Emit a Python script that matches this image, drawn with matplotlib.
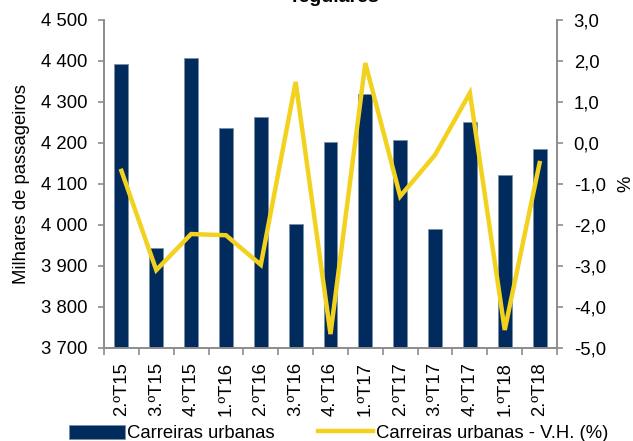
import matplotlib.pyplot as plt
import numpy as np

plt.rcParams['font.family'] = ['Liberation Sans', 'DejaVu Sans']

# trimestres
quarters = ['2.ºT15', '3.ºT15', '4.ºT15', '1.ºT16', '2.ºT16', '3.ºT16', '4.ºT16',
            '1.ºT17', '2.ºT17', '3.ºT17', '4.ºT17', '1.ºT18', '2.ºT18']
# milhares de passageiros
passengers = [4393, 3944, 4407, 4237, 4263, 4002, 4202, 4320, 4207, 3990, 4251, 4122, 4185]
# variacao homologa (%)
yoy = [-0.68, -3.1, -2.22, -2.25, -2.97, 1.49, -4.66, 1.95, -1.3, -0.29, 1.22, -4.56, -0.49]

left_ticks = [3700, 3800, 3900, 4000, 4100, 4200, 4300, 4400, 4500]
right_ticks = [-5, -4, -3, -2, -1, 0, 1, 2, 3]

navy = '#002B5C'
yellow = '#F2D21E'
grey = '#8C8C8C'
fs = 13.3

fig = plt.figure(figsize=(6.33, 4.41), dpi=100)
ax = fig.add_axes([104/633, 1 - 348/441, (557-104)/633, (348-20)/441])
ax2 = ax.twinx()

x = np.arange(len(quarters))
b = ax.bar(x, passengers, width=0.4, color=navy, edgecolor='#7A8FA8', linewidth=0.6,
           label='Carreiras urbanas', zorder=2)
l, = ax2.plot(x, yoy, color=yellow, lw=3.2, label='Carreiras urbanas - V.H. (%)',
              solid_joinstyle='miter', zorder=3)

ax.set_xlim(-0.5, len(quarters) - 0.5)
ax.set_ylim(3700, 4500)
ax2.set_ylim(-5, 3)

ax.set_yticks(left_ticks)
ax.set_yticklabels([f'{v:,}'.replace(',', ' ') for v in left_ticks])
ax2.set_yticks(right_ticks)
ax2.set_yticklabels([f'{v:.1f}'.replace('.', ',') for v in right_ticks])

# separators between categories, labels centred on bars
ax.set_xticks(np.arange(len(quarters) + 1) - 0.5)
ax.set_xticklabels([])
ax.set_xticks(x, minor=True)
ax.set_xticklabels(quarters, minor=True, rotation=90, fontsize=fs)
ax.tick_params(axis='x', which='minor', length=0, pad=10)
ax.tick_params(axis='x', which='major', length=5, color=grey, width=1.2, direction='out')

for a in (ax, ax2):
    a.spines['top'].set_visible(False)
    for s in ('left', 'right', 'bottom'):
        a.spines[s].set_color(grey)
        a.spines[s].set_linewidth(1.2)
    a.tick_params(axis='y', labelsize=fs, color=grey, length=4, width=1.2,
                  direction='out', pad=8)

ax.set_ylabel('Milhares de passageiros', fontsize=fs, labelpad=8)
ax2.set_ylabel('%', fontsize=fs, labelpad=8)
ax2.patch.set_visible(False)

fig.text(0.53, 1 - 2/441, 'regulares', ha='center', va='baseline',
         fontsize=14, fontweight='bold')

fig.legend([b, l], ['Carreiras urbanas', 'Carreiras urbanas - V.H. (%)'],
           loc='lower center', bbox_to_anchor=(0.535, -0.04), ncol=2, frameon=False,
           fontsize=fs, handlelength=3.0, handleheight=0.8, columnspacing=2.3,
           handletextpad=0.15)

fig.savefig('out.png', dpi=100)
